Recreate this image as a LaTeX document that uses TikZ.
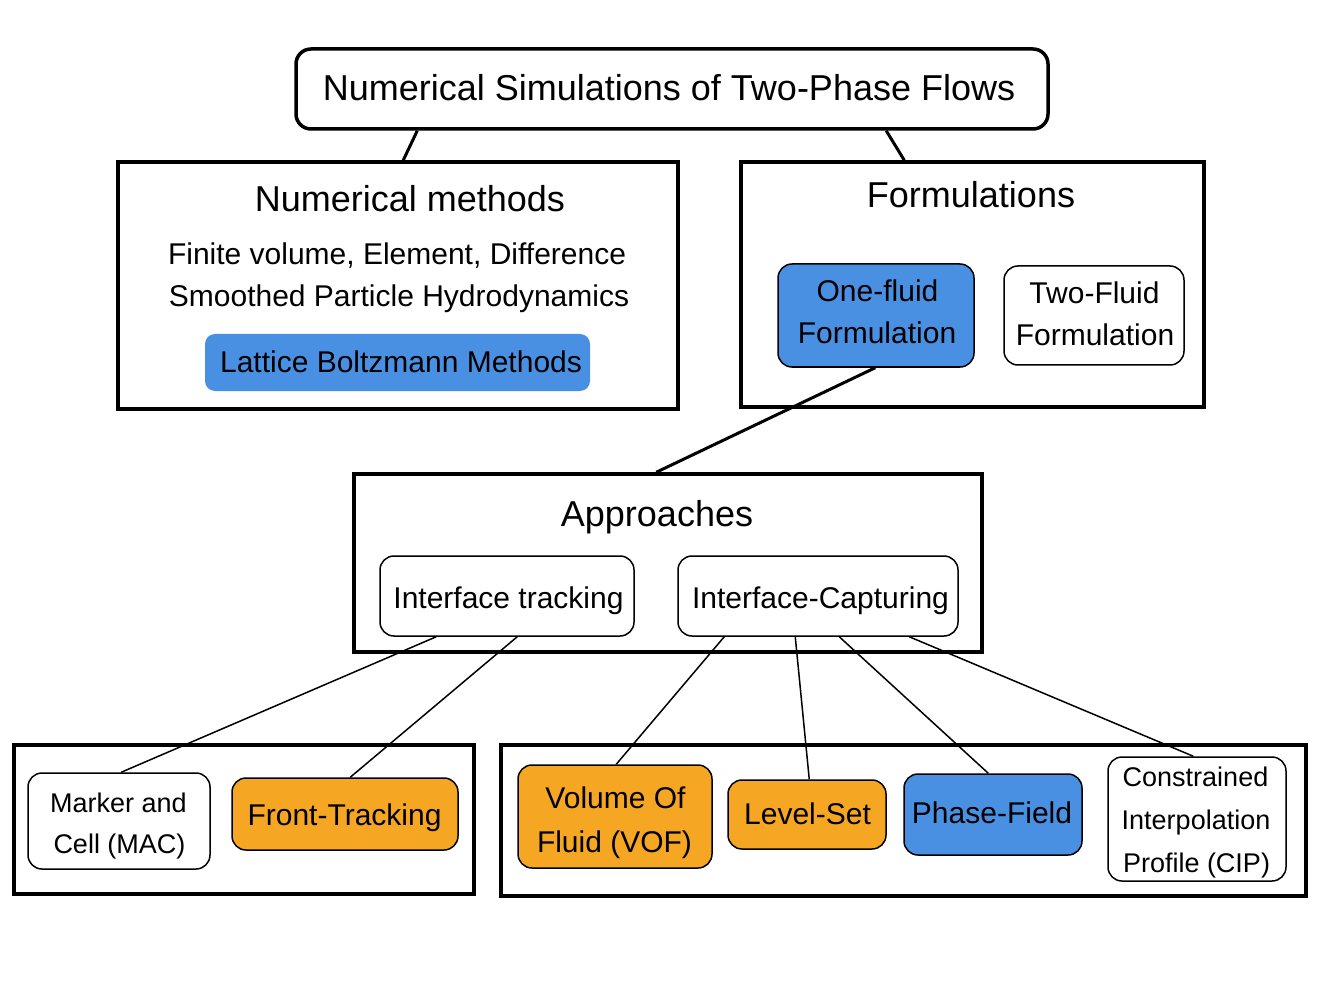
\documentclass[tikz,border=0pt]{standalone}
\usepackage{fontspec}
\setmainfont{Liberation Sans}
\usetikzlibrary{calc}
\definecolor{cblue}{HTML}{4A90E2}
\definecolor{corange}{HTML}{F5A623}
\begin{document}
\begin{tikzpicture}[x=1pt,y=-1pt,
  bigbox/.style={draw, line width=3.5pt, inner sep=0pt, fill=white},
  smallbox/.style={draw, line width=1.5pt, inner sep=0pt, rounded corners=14pt, fill=white},
  bluebox/.style={smallbox, fill=cblue},
  orangebox/.style={smallbox, fill=corange},
  head/.style={anchor=base, inner sep=0pt, font=\fontsize{36}{43}\selectfont},
  txt/.style={anchor=base, inner sep=0pt, font=\fontsize{30}{36}\selectfont},
  stxt/.style={anchor=base, inner sep=0pt, font=\fontsize{27}{32}\selectfont},
  thick link/.style={line width=3pt},
  thin link/.style={line width=1.5pt}]
\useasboundingbox (0,0) rectangle (1322,981);
\fill[white] (0,0) rectangle (1322,981);

% boxes
\node[bigbox, rounded corners=15pt, minimum width=752pt, minimum height=80pt] (title) at (672,89) {};
\node[bigbox, minimum width=560pt, minimum height=247pt] (nm) at (398,285.5) {};
\node[bigbox, minimum width=463pt, minimum height=245pt] (form) at (972.5,284.5) {};
\node[fill=cblue, rounded corners=10pt, inner sep=0pt, minimum width=385pt, minimum height=57pt] (lbm) at (397.5,362.5) {};
\node[bluebox, minimum width=196pt, minimum height=103pt] (one) at (876,315.5) {};
\node[smallbox, minimum width=180pt, minimum height=99pt] (two) at (1094,315.5) {};
\node[bigbox, minimum width=628pt, minimum height=178pt] (app) at (668,563) {};
\node[smallbox, minimum width=254pt, minimum height=80pt] (it) at (507,596) {};
\node[smallbox, minimum width=280pt, minimum height=80pt] (ic) at (818,596) {};
\node[bigbox, minimum width=460pt, minimum height=149pt] (gl) at (244,819.5) {};
\node[bigbox, minimum width=805pt, minimum height=151pt] (gr) at (903.5,820.5) {};
\node[smallbox, minimum width=182pt, minimum height=96pt] (mac) at (119,821) {};
\node[orangebox, minimum width=226pt, minimum height=72pt] (ft) at (345,814) {};
\node[orangebox, minimum width=194pt, minimum height=103pt] (vof) at (615,816.5) {};
\node[orangebox, minimum width=158pt, minimum height=69pt] (ls) at (807,814.5) {};
\node[bluebox, minimum width=178pt, minimum height=81pt] (pf) at (993,814.5) {};
\node[smallbox, minimum width=178pt, minimum height=124pt] (cip) at (1197,819) {};

% connectors
\draw[thick link] ($(title.south west)+(123,0)$) -- ($(nm.north west)+(287,0)$);
\draw[thick link] ($(title.south west)+(592,0)$) -- ($(form.north west)+(165,0)$);
\draw[thick link] ($(one.south west)+(98,0)$) -- ($(app.north west)+(304,0)$);
\draw[thin link] ($(it.south west)+(57,0)$) -- ($(mac.north west)+(94,0)$);
\draw[thin link] ($(it.south west)+(138,0)$) -- ($(ft.north west)+(119,0)$);
\draw[thin link] ($(ic.south west)+(47,0)$) -- ($(vof.north west)+(99,0)$);
\draw[thin link] ($(ic.south west)+(118,0)$) -- ($(ls.north west)+(82,0)$);
\draw[thin link] ($(ic.south west)+(162,0)$) -- ($(pf.north west)+(85,0)$);
\draw[thin link] ($(ic.south west)+(232,0)$) -- ($(cip.north west)+(86,0)$);

% texts
\node[head] (t0) at (669,101) {Numerical Simulations of Two-Phase Flows};
\node[head] (t1) at (410,212) {Numerical methods};
\node[txt] (t2) at (397,265) {Finite volume, Element, Difference};
\node[txt] (t3) at (399,307) {Smoothed Particle Hydrodynamics};
\node[txt] (t4) at (401,373) {Lattice Boltzmann Methods};
\node[head] (t5) at (971,208) {Formulations};
\node[txt] (t6) at (877.5,302) {One-fluid};
\node[txt] (t7) at (877,344) {Formulation};
\node[txt] (t8) at (1094.5,304) {Two-Fluid};
\node[txt] (t9) at (1095,346) {Formulation};
\node[head] (t10) at (657,526) {Approaches};
\node[txt] (t11) at (508.5,608) {Interface tracking};
\node[txt] (t12) at (820.5,608) {Interface-Capturing};
\node[stxt] (t13) at (118.5,812) {Marker and};
\node[stxt] (t14) at (119.5,853) {Cell (MAC)};
\node[txt] (t15) at (344.5,825) {Front-Tracking};
\node[txt] (t16) at (615.5,808) {Volume Of};
\node[txt] (t17) at (614.5,852) {Fluid (VOF)};
\node[txt] (t18) at (807.5,824) {Level-Set};
\node[txt] (t19) at (992,823) {Phase-Field};
\node[stxt] (t20) at (1195.5,786) {Constrained};
\node[stxt] (t21) at (1196,829) {Interpolation};
\node[stxt] (t22) at (1196.5,872) {Profile (CIP)};
\end{tikzpicture}
\end{document}
